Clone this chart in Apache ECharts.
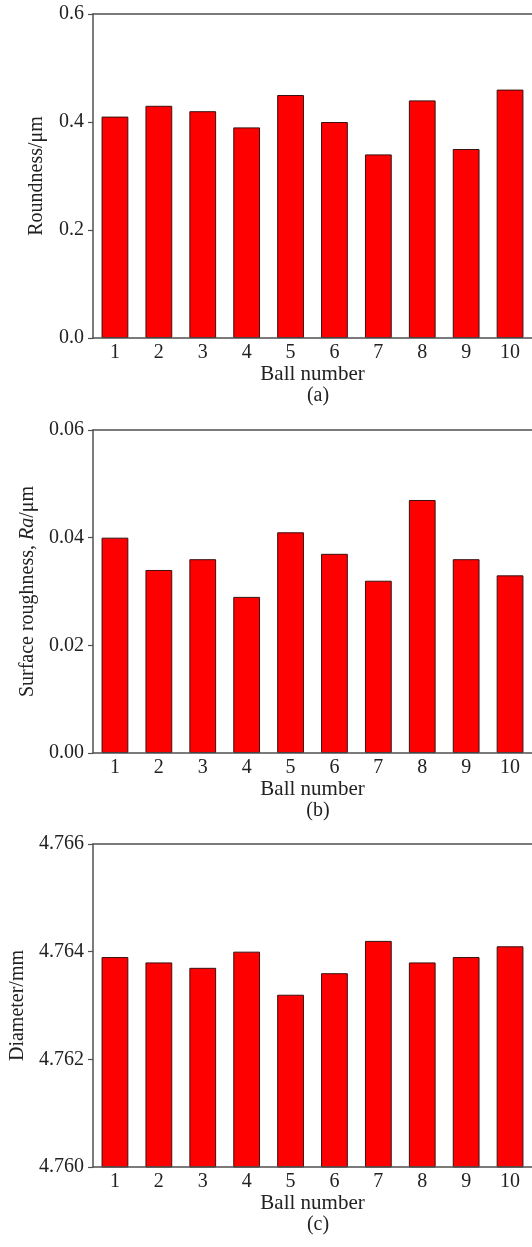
<!DOCTYPE html>
<html>
<head>
<meta charset="utf-8">
<script src="https://cdn.jsdelivr.net/npm/echarts@6/dist/echarts.min.js"></script>
<style>
html,body{margin:0;padding:0;background:#fff;}
#c{width:532px;height:1247px;}
</style>
</head>
<body>
<div id="c"></div>
<script>
const categories = ['1','2','3','4','5','6','7','8','9','10'];
const roundness = [0.41, 0.43, 0.42, 0.39, 0.45, 0.40, 0.34, 0.44, 0.35, 0.46];
const roughness = [0.040, 0.034, 0.036, 0.029, 0.041, 0.037, 0.032, 0.047, 0.036, 0.033];
const diameter = [4.7639, 4.7638, 4.7637, 4.7640, 4.7632, 4.7636, 4.7642, 4.7638, 4.7639, 4.7641];
const panelLabels = ['(a)', '(b)', '(c)'];
const yTitles = ['Roundness/μm', 'Surface roughness, {i|Ra}/μm', 'Diameter/mm'];
const yRanges = [[0, 0.6, 0.2, 1], [0, 0.06, 0.02, 2], [4.760, 4.766, 0.002, 3]];
const xTitle = 'Ball number';

const font = 'Liberation Serif';
const txt = '#222';
const axisCol = '#505050';
const grids = [
  {left: 93, top: 14, width: 442, height: 324},
  {left: 93, top: 430, width: 442, height: 323},
  {left: 93, top: 844, width: 442, height: 323}
];
const nameGaps = [46, 54, 63];
const seriesData = [roundness, roughness, diameter];

const bottomAxes = grids.map((g, i) => ({
  type: 'category', gridIndex: i, data: categories, position: 'bottom', zlevel: 1,
  name: xTitle, nameLocation: 'middle', nameGap: 25,
  nameTextStyle: {fontFamily: font, fontSize: 21, color: txt},
  axisLine: {lineStyle: {color: axisCol, width: 1.5}},
  axisTick: {inside: true, alignWithLabel: true, length: 5, lineStyle: {color: '#3a1010', width: 1.2}},
  axisLabel: {fontFamily: font, fontSize: 20, color: txt, margin: 5},
  splitLine: {show: false}
}));
const topAxes = grids.map((g, i) => ({
  type: 'category', gridIndex: i, data: categories, position: 'top',
  axisLine: {show: true, lineStyle: {color: axisCol, width: 1.5}},
  axisTick: {show: false}, axisLabel: {show: false}, splitLine: {show: false}
}));

const option = {
  animation: false,
  backgroundColor: '#fff',
  textStyle: {fontFamily: font},
  title: panelLabels.map((t, i) => ({
    text: t,
    left: 313, textAlign: 'center',
    top: grids[i].top + grids[i].height + 43,
    textStyle: {fontFamily: font, fontSize: 20, fontWeight: 'normal', color: txt}
  })),
  grid: grids.map(g => Object.assign({show: false}, g)),
  xAxis: bottomAxes.concat(topAxes),
  yAxis: yRanges.map((r, i) => ({
    type: 'value', gridIndex: i, min: r[0], max: r[1], interval: r[2],
    name: yTitles[i], nameLocation: 'middle', nameGap: nameGaps[i], nameRotate: 90,
    nameTextStyle: {fontFamily: font, fontSize: 20, color: txt,
      rich: {i: {fontFamily: font, fontSize: 20, fontStyle: 'italic', color: txt}}},
    axisLine: {show: true, lineStyle: {color: axisCol, width: 1.5}},
    axisTick: {show: true, inside: false, length: 5, lineStyle: {color: axisCol, width: 1.2}},
    axisLabel: {fontFamily: font, fontSize: 20, color: txt, margin: 9,
      formatter: v => v.toFixed(r[3])},
    splitLine: {show: false}
  })),
  series: seriesData.map((d, i) => ({
    type: 'bar', xAxisIndex: i, yAxisIndex: i, data: d,
    barCategoryGap: '39%',
    itemStyle: {color: '#ff0000', borderColor: '#3a1010', borderWidth: 1}
  }))
};
const chart = echarts.init(document.getElementById('c'));
chart.setOption(option);
</script>
</body>
</html>
